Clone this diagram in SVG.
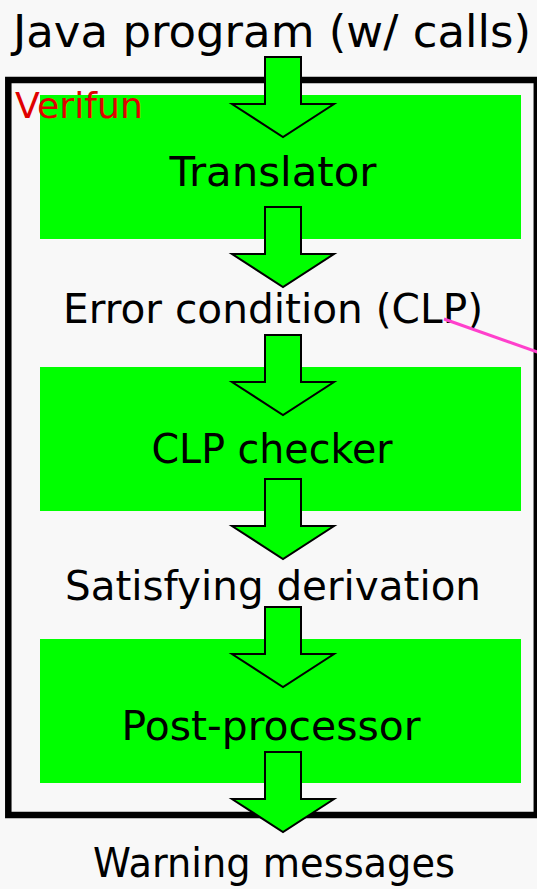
<svg xmlns="http://www.w3.org/2000/svg" width="537" height="889" viewBox="0 0 537 889">
  <defs>
    <!-- block arrow pointing down, origin at top-center of the shaft -->
    <path id="down" d="M-18,0 H18 V47 H51 L0,80 L-51,47 H-18 Z"/>
  </defs>
  <style>
    .bg { fill: #f8f8f8; }
    .frame { fill: none; stroke: #000; stroke-width: 6.5; }
    .stage { fill: #00ff00; }
    .arrow { fill: #00ff00; stroke: #000; stroke-width: 2; stroke-linejoin: miter; }
    .t { font-family: "Comic Sans MS", "DejaVu Sans", "Liberation Sans", sans-serif; fill: #000; text-anchor: middle; }
    .big { font-size: 40px; }
    .title { font-size: 44px; }
    .tag { font-family: "Comic Sans MS", "DejaVu Sans", "Liberation Sans", sans-serif; font-size: 35px; fill: #e00000; }
    .pointer { stroke: #ff40cc; stroke-width: 3; fill: none; }
  </style>

  <rect class="bg" x="0" y="0" width="537" height="889"/>

  <g id="input">
    <text class="t title" x="272" y="47" textLength="518" lengthAdjust="spacingAndGlyphs">Java program (w/ calls)</text>
  </g>

  <g id="verifun">
    <rect class="frame" x="8.3" y="80" width="528.5" height="735"/>
  </g>

  <g id="translator">
    <rect class="stage" x="40" y="95" width="481" height="144"/>
    <text class="t big" x="273" y="186" textLength="207" lengthAdjust="spacingAndGlyphs">Translator</text>
  </g>

  <g id="verifun-label">
    <text class="tag" x="15" y="118" textLength="128" lengthAdjust="spacingAndGlyphs">Verifun</text>
  </g>

  <g id="error-condition">
    <text class="t big" x="273" y="323" textLength="420" lengthAdjust="spacingAndGlyphs">Error condition (CLP)</text>
  </g>

  <g id="clp-checker">
    <rect class="stage" x="40" y="367" width="481" height="144"/>
    <text class="t big" x="272" y="463" textLength="241" lengthAdjust="spacingAndGlyphs">CLP checker</text>
  </g>

  <g id="derivation">
    <text class="t big" x="273" y="600" textLength="416" lengthAdjust="spacingAndGlyphs">Satisfying derivation</text>
  </g>

  <g id="post-processor">
    <rect class="stage" x="40" y="639" width="481" height="144"/>
    <text class="t big" x="271" y="740" textLength="299" lengthAdjust="spacingAndGlyphs">Post-processor</text>
  </g>

  <g id="warnings">
    <text class="t big" x="274" y="877" textLength="362" lengthAdjust="spacingAndGlyphs">Warning messages</text>
  </g>

  <g id="connectors">
    <use href="#down" class="arrow" x="283" y="57"/>
    <use href="#down" class="arrow" x="283" y="207"/>
    <use href="#down" class="arrow" x="283" y="335"/>
    <use href="#down" class="arrow" x="283" y="479"/>
    <use href="#down" class="arrow" x="283" y="607"/>
    <use href="#down" class="arrow" x="283" y="752"/>
    <line class="pointer" x1="444" y1="319" x2="540" y2="353"/>
  </g>
</svg>
